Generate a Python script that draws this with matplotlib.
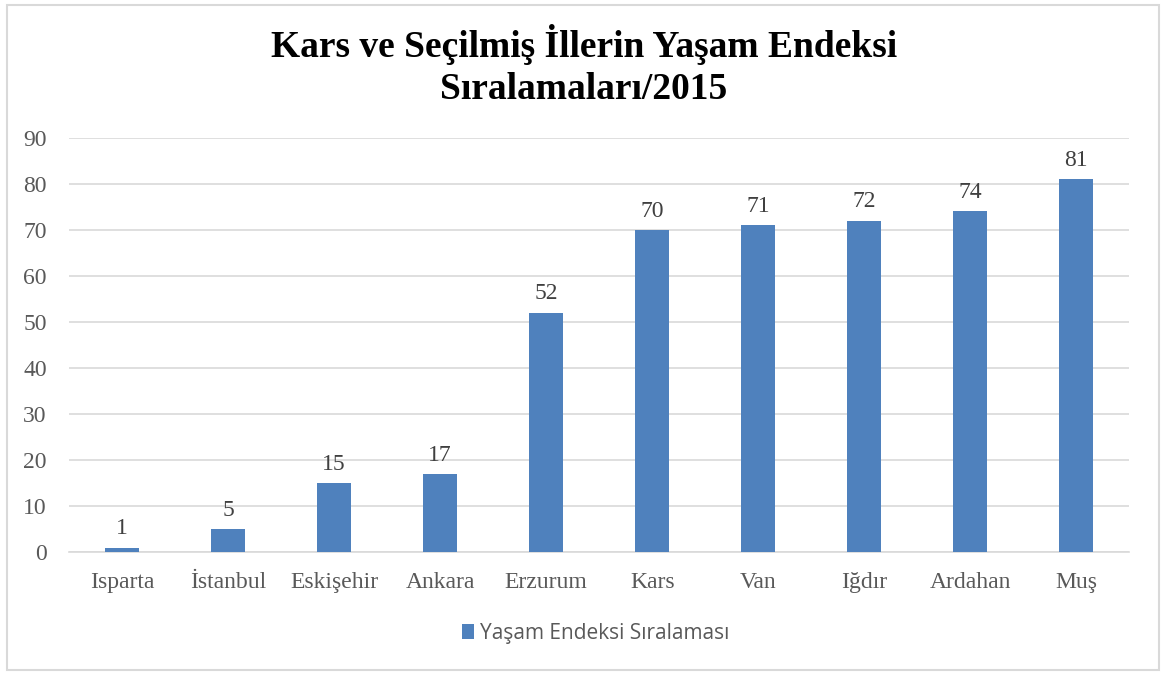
import matplotlib.pyplot as plt
from matplotlib.patches import Rectangle

# Yaşam endeksi sıralamaları 2015
iller = ["Isparta", "İstanbul", "Eskişehir", "Ankara", "Erzurum",
         "Kars", "Van", "Iğdır", "Ardahan", "Muş"]
siralama = [1, 5, 15, 17, 52, 70, 71, 72, 74, 81]
seri_adi = "Yaşam Endeksi Sıralaması"
baslik = "Kars ve Seçilmiş İllerin Yaşam Endeksi\nSıralamaları/2015"

renk = "#4F81BD"
gri = "#595959"

fig = plt.figure(figsize=(11.68, 6.75), dpi=100)
ax = fig.add_axes([0.059, 0.182, 0.908, 0.614])

x = range(len(iller))
bars = ax.bar(x, siralama, width=0.32, color=renk, label=seri_adi, zorder=3)

for b, v in zip(bars, siralama):
    ax.text(b.get_x() + b.get_width() / 2, v + 1.8, str(v), ha="center", va="bottom",
            fontsize=17, family="Liberation Serif", color="#404040")

ax.set_xlim(-0.5, len(iller) - 0.5)
ax.set_ylim(0, 90)
ax.set_yticks(range(0, 91, 10))
ax.set_xticks(list(x))
ax.set_xticklabels(iller)
for lbl in ax.get_xticklabels() + ax.get_yticklabels():
    lbl.set_family("Liberation Serif")
    lbl.set_fontsize(17)
    lbl.set_color(gri)
ax.tick_params(length=0, pad=14)
ax.tick_params(axis="y", pad=16)
ax.grid(axis="y", color="#D9D9D9", linewidth=1.2, zorder=0)
for s in ["top", "right", "left"]:
    ax.spines[s].set_visible(False)
ax.spines["bottom"].set_color("#D9D9D9")
ax.spines["bottom"].set_linewidth(1.2)

fig.suptitle(baslik, y=0.965, fontsize=27, fontweight="bold",
             family="Liberation Serif", linespacing=1.27)

fig.legend(loc="center", bbox_to_anchor=(0.51, 0.062), frameon=False,
           prop={"family": "Open Sans", "size": 15}, handlelength=0.6,
           handleheight=0.7, handletextpad=0.3, labelcolor=gri)

# dış çerçeve
fig.patches.append(Rectangle((0.006, 0.008), 0.986, 0.985, transform=fig.transFigure,
                             fill=False, edgecolor="#D9D9D9", linewidth=1.5))

fig.savefig("out.png", dpi=100)
